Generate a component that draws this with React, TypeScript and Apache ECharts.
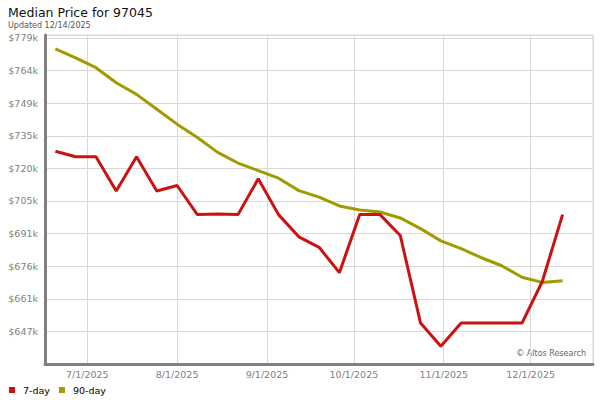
import React, { useEffect, useRef } from 'react';
import * as echarts from 'echarts';

// weekly sample dates (Fridays)
const weekDates = [
  '2025-06-20', '2025-06-27', '2025-07-04', '2025-07-11', '2025-07-18', '2025-07-25',
  '2025-08-01', '2025-08-08', '2025-08-15', '2025-08-22', '2025-08-29', '2025-09-05',
  '2025-09-12', '2025-09-19', '2025-09-26', '2025-10-03', '2025-10-10', '2025-10-17',
  '2025-10-24', '2025-10-31', '2025-11-07', '2025-11-14', '2025-11-21', '2025-11-28',
  '2025-12-05', '2025-12-12',
];

// median price in $k
const sevenDay = [
  727.7, 725.2, 725.2, 709.8, 725.2, 709.8, 712.3, 699.2, 699.5, 699.2, 715.3, 699.2,
  689.2, 684.5, 673.1, 699.2, 699.2, 689.8, 650.4, 640.0, 650.4, 650.4, 650.4, 650.4,
  669.1, 699.2,
];

const ninetyDay = [
  773.8, 769.7, 765.3, 758.5, 753.3, 746.6, 739.9, 733.9, 727.2, 722.4, 719.0, 715.6,
  710.0, 707.1, 703.1, 701.3, 700.4, 697.7, 692.9, 687.4, 683.9, 679.8, 676.2, 671.0,
  668.7, 669.5,
];

const seriesNames = ['7-day', '90-day'];

const toTime = (s: string, h = 0) => {
  const [y, m, d] = s.split('-').map(Number);
  return new Date(y, m - 1, d, h).getTime();
};

const App: React.FC = () => {
  const chartRef = useRef<HTMLDivElement>(null);

  useEffect(() => {
    if (!chartRef.current) return;
    const chart = echarts.init(chartRef.current, null, { renderer: 'svg' });

    const pairs = (vals: number[]) => weekDates.map((d, i) => [toTime(d), vals[i]]);

    const option: echarts.EChartsOption = {
      animation: false,
      backgroundColor: '#fff',
      textStyle: { fontFamily: 'DejaVu Sans' },
      title: {
        text: 'Median Price for 97045',
        subtext: 'Updated 12/14/2025',
        left: 3,
        top: 1,
        itemGap: 2,
        textStyle: { fontSize: 12.5, fontWeight: 'normal', color: '#111' },
        subtextStyle: { fontSize: 8, color: '#555' },
      },
      grid: {
        left: 45,
        right: 7,
        top: 35,
        bottom: 36,
        show: true,
        borderColor: '#d8d8d8',
        borderWidth: 1,
      },
      legend: {
        data: seriesNames,
        left: 4,
        top: 380,
        icon: 'rect',
        itemWidth: 6,
        itemHeight: 6,
        itemGap: 9,
        textStyle: { fontSize: 9.5, color: '#000', padding: [0, 0, 0, 3] },
      },
      xAxis: {
        type: 'time',
        min: toTime('2025-06-16', 10),
        max: toTime('2025-12-22', 12),
        splitNumber: 7,
        axisLine: { lineStyle: { color: '#808080', width: 3 } },
        axisTick: { show: false },
        splitLine: { show: true, lineStyle: { color: '#d8d8d8', width: 1 } },
        axisLabel: {
          color: '#808080',
          fontSize: 9.5,
          margin: 5,
          hideOverlap: false,
          formatter: (v: number) => {
            const d = new Date(v);
            return `${d.getMonth() + 1}/${d.getDate()}/${d.getFullYear()}`;
          },
        },
      },
      yAxis: {
        type: 'value',
        min: 632,
        max: 780,
        interval: 44 / 3,
        axisLine: { show: true, lineStyle: { color: '#808080', width: 3 } },
        axisTick: { show: false },
        splitLine: { lineStyle: { color: '#d8d8d8', width: 1 } },
        axisLabel: {
          color: '#808080',
          fontSize: 9.5,
          margin: 7,
          showMinLabel: false,
          showMaxLabel: false,
          formatter: (v: number) => `$${Math.round(v)}k`,
        },
      },
      graphic: [
        {
          type: 'text',
          right: 14,
          top: 349,
          style: { text: '© Altos Research', fill: '#666', fontSize: 8, fontFamily: 'DejaVu Sans' },
        },
      ],
      series: [
        {
          name: '90-day',
          type: 'line',
          data: pairs(ninetyDay),
          showSymbol: false,
          color: '#a09c00',
          lineStyle: { width: 3, color: '#a09c00' },
        },
        {
          name: '7-day',
          type: 'line',
          data: pairs(sevenDay),
          showSymbol: false,
          color: '#cc1111',
          lineStyle: { width: 3, color: '#cc1111' },
        },
      ],
    };

    chart.setOption(option as any);

    return () => {
      chart.dispose();
    };
  }, []);

  return (
    <div
      ref={chartRef}
      style={{ position: 'absolute', left: 0, top: 0, width: '600px', height: '400px' }}
    />
  );
};

export default App;
